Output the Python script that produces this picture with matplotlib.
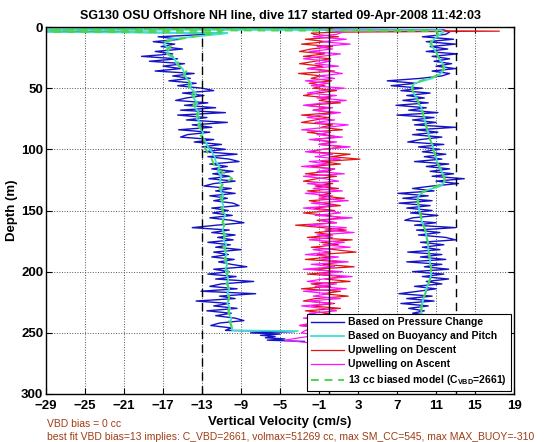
import numpy as np
import matplotlib
matplotlib.use('Agg')
import matplotlib.pyplot as plt

plt.rcParams['font.family'] = ['Liberation Sans', 'DejaVu Sans']
plt.rcParams['font.weight'] = 'bold'
plt.rcParams['mathtext.fontset'] = 'custom'
plt.rcParams['mathtext.rm'] = 'Liberation Sans:bold'
plt.rcParams['mathtext.bf'] = 'Liberation Sans:bold'

# depth samples (m) through the body of the profiles
depth_fine = np.arange(6, 249, 2)
depth_cyan = np.arange(6, 247, 4)
depth_green = np.arange(8, 249, 4)

# --- descent (pressure based), cm/s
dn_top_z = [0.5, 2.6, 3.6, 5.0]
dn_top_w = [-3.0, -40.0, -30.0, -10.5]
dn_bot_z = [249, 250, 251, 252, 253, 254, 255, 256, 257]
dn_bot_w = [-3.5, -8.0, -5.0, -7.0, -5.5, -6.5, -4.5, -6.3, -2.5]
w_dn = [
    -12.5, -17.5, -15.2, -18.0, -15.8, -17.2, -15.0, -17.8, -16.0, -19.2,
    -15.5, -18.4, -14.8, -17.0, -15.2, -17.8, -13.8, -16.0, -14.2, -16.4,
    -13.6, -15.5, -13.0, -11.8, -15.0, -12.8, -14.6, -15.7, -12.4, -14.8,
    -11.6, -15.2, -10.6, -15.5, -12.5, -14.6, -10.4, -14.0, -12.0, -15.4,
    -12.2, -14.5, -15.2, -11.8, -13.8, -11.0, -13.0, -10.6, -12.8, -9.4,
    -12.4, -10.2, -9.2, -12.2, -10.4, -12.0, -9.8, -11.9, -10.2, -12.3,
    -9.6, -11.8, -12.8, -10.0, -11.6, -9.6, -12.2, -10.4, -11.8, -9.8,
    -9.2, -12.0, -10.3, -11.9, -9.9, -12.2, -10.0, -8.7, -11.5, -14.0,
    -10.2, -12.0, -9.6, -11.4, -9.8, -12.4, -10.1, -11.6, -9.0, -11.8,
    -10.3, -12.0, -9.7, -11.3, -10.0, -8.4, -11.8, -10.2, -12.4, -9.5,
    -11.6, -7.7, -11.0, -12.2, -9.4, -13.1, -7.5, -11.2, -9.6, -13.6,
    -10.2, -11.8, -9.4, -12.5, -10.0, -11.6, -9.6, -8.7, -11.2, -12.1,
    -10.0, -10.6,
]

# --- ascent (pressure based)
up_top_z = [0.8, 1.6, 2.4, 4.0]
up_top_w = [-5.6, -3.5, 11.8, 12.4]
up_bot_z = [250, 253, 256]
up_bot_w = [8.0, 4.0, 0.5]
w_up = [
    12.0, 9.6, 12.8, 10.0, 13.0, 10.4, 12.2, 10.0, 13.2, 10.6,
    12.4, 10.8, 12.6, 11.0, 13.0, 10.6, 12.4, 11.6, 9.4, 6.0,
    9.0, 6.4, 9.6, 7.4, 10.4, 8.0, 9.8, 7.6, 10.2, 6.9,
    10.0, 8.2, 11.2, 7.0, 10.8, 8.6, 11.0, 8.8, 13.0, 9.0,
    11.2, 8.6, 11.6, 9.4, 8.1, 11.8, 9.2, 11.4, 9.6, 12.0,
    9.8, 11.6, 8.8, 12.3, 10.0, 12.4, 10.4, 12.8, 10.6, 13.9,
    11.0, 13.3, 10.6, 8.6, 10.8, 7.1, 10.2, 7.6, 10.6, 7.2,
    10.4, 8.0, 10.6, 8.4, 11.2, 8.6, 7.8, 11.0, 8.8, 13.0,
    9.0, 11.4, 9.2, 12.0, 13.0, 9.4, 11.8, 9.6, 11.4, 8.1,
    11.6, 9.4, 12.0, 8.0, 11.6, 9.8, 12.3, 8.6, 11.8, 9.6,
    12.3, 10.0, 11.6, 8.8, 11.0, 9.2, 7.2, 10.6, 8.0, 10.8,
    7.4, 10.2, 8.2, 9.8, 8.6, 10.6, 8.8, 10.4, 9.0, 11.0,
    9.4, 10.6,
]

# --- buoyancy and pitch model
cyan_dn_top_z = [0.5, 2.8, 3.6, 5.0]
cyan_dn_top_w = [-1.0, -40.0, -38.0, -10.4]
cyan_dn_bot_z = [248.0, 248.6]
cyan_dn_bot_w = [-9.9, -3.2]
cyan_dn = [
    -11.5, -16.3, -16.9, -16.4, -16.6, -15.8, -15.6, -15.0, -14.8, -14.6,
    -14.1, -14.2, -13.6, -13.9, -13.5, -13.7, -13.3, -13.6, -13.2, -13.3,
    -12.9, -13.0, -12.6, -12.4, -12.0, -11.7, -11.6, -11.2, -11.4, -11.0,
    -11.2, -10.9, -11.1, -10.8, -11.0, -10.8, -10.9, -10.6, -10.9, -10.7,
    -10.9, -10.6, -10.8, -10.5, -10.7, -10.5, -10.7, -10.4, -10.6, -10.5,
    -10.3, -10.5, -10.2, -10.4, -10.2, -10.4, -10.1, -10.3, -10.0, -10.1,
    -9.9,
]
cyan_up_top_z = [2.0, 2.6, 4.0]
cyan_up_top_w = [-35.0, 11.5, 11.8]
cyan_up_bot_z = [250, 254, 257]
cyan_up_bot_w = [8.0, 3.0, 0.0]
cyan_up = [
    11.4, 10.8, 10.4, 10.8, 11.1, 11.3, 11.7, 11.9, 11.5, 10.6,
    8.8, 8.5, 8.7, 9.0, 9.2, 9.5, 9.6, 9.8, 9.9, 10.0,
    10.2, 10.3, 10.5, 10.7, 10.8, 11.0, 11.1, 11.3, 11.6, 11.8,
    11.9, 11.5, 9.8, 9.2, 9.1, 9.2, 9.3, 9.4, 9.5, 9.7,
    9.9, 10.0, 10.1, 10.2, 10.2, 10.3, 10.4, 10.4, 10.5, 10.5,
    10.4, 10.2, 10.0, 9.9, 9.7, 9.6, 9.5, 9.5, 9.6, 9.8,
    10.0,
]

# --- 13 cc biased model
green_dn_top_z = [0.5, 3.8, 4.3, 6.0]
green_dn_top_w = [0.0, -45.0, -11.0, -12.5]
green_dn = [
    -14.0, -16.8, -16.2, -16.9, -16.0, -15.5, -15.4, -14.6, -14.9, -14.3,
    -14.4, -13.8, -14.0, -13.4, -13.9, -13.4, -13.5, -13.1, -13.4, -13.0,
    -13.2, -12.8, -12.9, -12.6, -12.3, -12.0, -11.8, -11.5, -10.6, -9.9,
    -10.8, -11.2, -10.9, -11.1, -10.7, -11.0, -10.8, -10.7, -10.9, -10.6,
    -10.8, -10.7, -10.6, -10.8, -10.4, -10.6, -10.5, -10.7, -10.3, -10.5,
    -10.4, -10.3, -10.5, -10.2, -10.3, -10.2, -10.3, -10.1, -10.2, -10.0,
    -10.0,
]
green_up_top_z = [2.2, 3.2, 5.0]
green_up_top_w = [-40.0, 11.0, 11.2]
green_up = [
    11.0, 10.5, 10.6, 11.0, 11.2, 11.5, 11.8, 11.7, 11.0, 9.4,
    8.6, 8.6, 8.9, 9.1, 9.3, 9.6, 9.7, 9.8, 10.0, 10.1,
    10.2, 10.4, 10.6, 10.7, 10.9, 11.0, 11.2, 11.5, 11.7, 11.9,
    11.8, 10.4, 9.4, 9.1, 9.2, 9.2, 9.4, 9.5, 9.6, 9.8,
    10.0, 10.0, 10.2, 10.2, 10.3, 10.3, 10.4, 10.5, 10.5, 10.5,
    10.3, 10.1, 10.0, 9.8, 9.7, 9.5, 9.5, 9.5, 9.7, 9.9,
    10.0,
]

# --- upwelling estimates
red_top_z = [0.5, 2.5, 3.4, 4.2, 5.0]
red_top_w = [0.5, -0.5, 17.5, 1.0, -1.8]
w_red = [
    -1.5, 1.0, -2.4, -0.2, -2.8, 0.4, -1.8, -3.0, -0.4, -2.6,
    0.2, -1.4, -3.0, -0.6, -2.2, 0.6, -3.1, -0.8, -1.8, 0.3,
    -2.0, -0.4, -1.6, 0.8, -1.2, -2.6, 0.2, -1.0, 1.2, -2.4,
    -0.2, -1.6, 0.6, -2.8, 0.0, -1.4, -2.8, 0.4, -0.8, 1.4,
    -2.2, -0.4, 1.0, -1.6, 0.4, -1.0, 1.6, -0.6, -2.0, 2.2,
    0.2, 3.2, -0.8, 1.2, -1.8, 0.6, -0.2, -2.4, 0.8, -1.2,
    -2.6, 0.4, -1.4, 1.0, -2.2, 0.2, -1.0, 1.6, -2.0, -0.4,
    1.2, -1.6, 0.6, -2.6, -0.2, 1.4, -1.2, 0.8, -3.4, -0.6,
    1.8, -1.4, 0.4, -2.2, 2.4, -0.8, 1.0, -1.8, 0.6, 2.8,
    -1.2, 0.2, -2.4, 1.4, -0.6, 2.6, -1.6, 0.8, -2.2, 1.6,
    -0.4, 2.2, -1.8, 0.2, -2.8, 1.2, -0.6, 2.0, -1.4, -2.6,
    0.6, -1.8, 1.2, -2.4, 0.0, -1.2, 1.0, -2.0, -0.2, -3.0,
    -0.8, -2.2,
]
mag_top_z = [0.5, 2.0, 4.0]
mag_top_w = [0.0, -1.0, 1.5]
mag_bot_z = [250, 252, 254, 256, 258]
mag_bot_w = [-2.8, -1.2, -3.0, -4.5, -2.2]
w_mag = [
    0.8, -1.6, 1.8, -0.6, 2.2, -1.2, 0.4, -2.0, 1.2, -0.8,
    -2.6, 0.2, -1.4, 1.0, -2.2, -0.2, 1.4, -1.0, 0.6, -2.4,
    0.0, -1.8, 1.6, -0.6, -2.2, 0.8, -1.2, 1.8, -0.4, -2.6,
    0.4, -1.6, 1.2, -0.8, -2.2, 0.6, -1.4, 2.0, -0.2, -2.8,
    0.2, -1.2, 1.4, -2.0, 0.8, -1.0, 2.2, -0.6, -2.4, 0.4,
    -1.4, 1.2, -2.0, 0.0, -2.8, 0.6, -1.2, 1.6, -2.6, -0.4,
    1.0, -2.2, 0.2, -1.6, 1.4, -2.4, 0.4, -1.0, 2.0, -1.8,
    0.6, -2.6, -0.2, 1.2, -1.4, 2.4, -0.8, 0.8, -2.2, 1.8,
    -0.4, 2.6, -1.2, 0.4, -2.0, 1.6, -0.6, 2.2, -1.6, 0.2,
    -2.4, 1.0, -0.8, 2.0, -1.8, 0.6, -2.6, 1.4, -1.0, 2.4,
    -0.6, -2.2, 0.8, -1.4, 1.8, -2.6, 0.0, -1.6, 1.2, -2.2,
    0.4, -2.8, -0.6, 0.8, -2.0, -0.4, -2.6, 0.2, -1.8, -3.0,
    -1.0, -2.4,
]

x_ticks = [-29, -25, -21, -17, -13, -9, -5, -1, 3, 7, 11, 15, 19]
y_ticks = [0, 50, 100, 150, 200, 250, 300]


def join(*parts):
    return np.concatenate([np.asarray(p, dtype=float) for p in parts])


C_BLUE = '#1414c4'
C_CYAN = '#3fe0d6'
C_RED = '#e01414'
C_MAG = '#ff14ff'
C_GREEN = '#4cd64c'

fig = plt.figure(figsize=(5.6, 4.42), dpi=100)
ax = fig.add_axes([46 / 560, 1 - 394 / 442, 468 / 560, 367 / 442])

h_blue, = ax.plot(join(dn_top_w, w_dn, dn_bot_w), join(dn_top_z, depth_fine, dn_bot_z),
                  color=C_BLUE, lw=1.0)
ax.plot(join(up_top_w, w_up, up_bot_w), join(up_top_z, depth_fine, up_bot_z),
        color=C_BLUE, lw=1.0)
h_red, = ax.plot(join(red_top_w, w_red), join(red_top_z, depth_fine), color=C_RED, lw=0.9)
h_mag, = ax.plot(join(mag_top_w, w_mag, mag_bot_w), join(mag_top_z, depth_fine, mag_bot_z),
                 color=C_MAG, lw=0.9)
h_cyan, = ax.plot(join(cyan_dn_top_w, cyan_dn, cyan_dn_bot_w),
                  join(cyan_dn_top_z, depth_cyan, cyan_dn_bot_z), color=C_CYAN, lw=1.3)
ax.plot(join(cyan_up_top_w, cyan_up, cyan_up_bot_w),
        join(cyan_up_top_z, depth_cyan, cyan_up_bot_z), color=C_CYAN, lw=1.3)
h_green, = ax.plot(join(green_dn_top_w, green_dn), join(green_dn_top_z, depth_green),
                   color=C_GREEN, lw=1.4, dashes=(4, 3))
ax.plot(join(green_up_top_w, green_up), join(green_up_top_z, depth_green),
        color=C_GREEN, lw=1.4, dashes=(4, 3))

ax.axvline(-13, color='k', lw=1.0, dashes=(6, 4))
ax.axvline(13, color='k', lw=1.0, dashes=(6, 4))
ax.axvline(0, color='k', lw=1.0)

ax.set_xlim(-29, 19)
ax.set_ylim(300, 0)
ax.set_xticks(x_ticks)
ax.set_yticks(y_ticks)
ax.grid(True, linestyle=':', color='#555555', lw=0.7)
ax.tick_params(direction='in', top=True, right=True, length=4, labelsize=9.5)
ax.tick_params(axis='x', pad=4)
ax.tick_params(axis='y', pad=2)
for s in ax.spines.values():
    s.set_linewidth(1.0)

ax.set_title('SG130 OSU Offshore NH line, dive 117 started 09-Apr-2008 11:42:03',
             fontsize=9, fontweight='bold', pad=6)
ax.set_xlabel('Vertical Velocity (cm/s)', fontsize=9.5, fontweight='bold', labelpad=3)
ax.set_ylabel('Depth (m)', fontsize=9.5, fontweight='bold', labelpad=2)

leg = ax.legend([h_blue, h_cyan, h_red, h_mag, h_green],
                ['Based on Pressure Change', 'Based on Buoyancy and Pitch',
                 'Upwelling on Descent', 'Upwelling on Ascent',
                 r'13 cc biased model (C$_{\mathbf{VBD}}$=2661)'],
                loc='lower right', fontsize=7.5, frameon=True, fancybox=False,
                framealpha=1, edgecolor='k', handlelength=3.2, borderpad=0.35,
                labelspacing=0.38, handletextpad=0.4, borderaxespad=0.3)
leg.get_frame().set_linewidth(0.8)

fig.text(47 / 560, 1 - 424 / 442, 'VBD bias = 0 cc', color='#a03c14',
         fontsize=7.5, fontweight='normal', va='center')
fig.text(47 / 560, 1 - 436.5 / 442,
         'best fit VBD bias=13 implies: C_VBD=2661, volmax=51269 cc, '
         'max SM_CC=545, max MAX_BUOY=-310',
         color='#a03c14', fontsize=7.5, fontweight='normal', va='center')

fig.savefig('out.png', dpi=100)
